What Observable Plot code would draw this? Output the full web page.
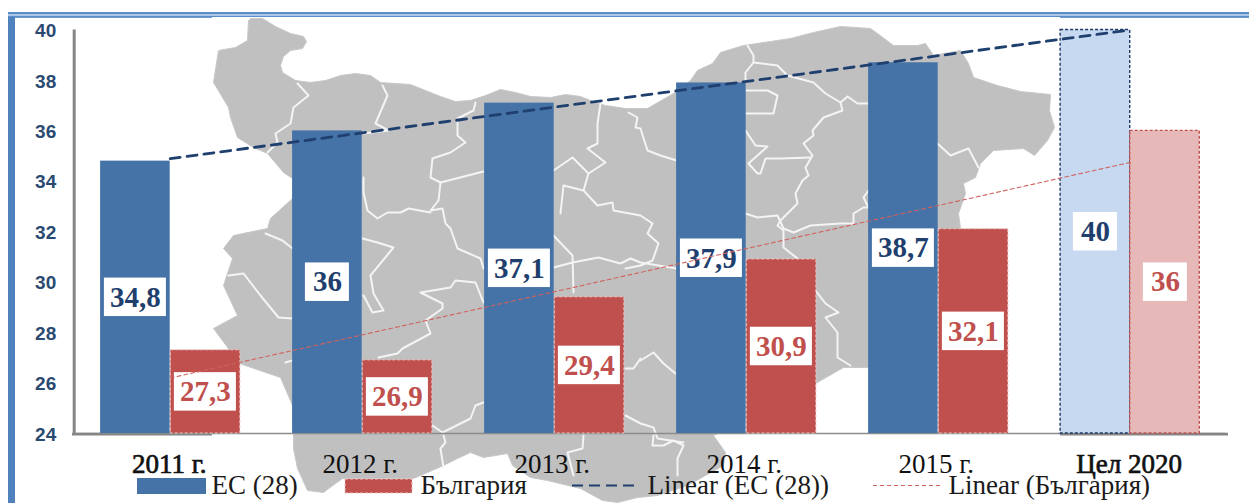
<!DOCTYPE html>
<html>
<head>
<meta charset="utf-8">
<script src="https://cdn.jsdelivr.net/npm/d3@7"></script>
<script src="https://cdn.jsdelivr.net/npm/@observablehq/plot@0.6"></script>
<style>
html,body{margin:0;padding:0;background:#fff;overflow:hidden}
#wrap{position:relative;width:1249px;height:503px}
#wrap svg{display:block;position:absolute;left:0;top:0;overflow:visible}
.f{position:absolute}
</style>
</head>
<body>
<div id="wrap">
</div>
<script>
const categories = ["2011 г.","2012 г.","2013 г.","2014 г.","2015 г.","Цел 2020"];
const euValues = [34.8,36,37.1,37.9,38.7,40];
const bgValues = [27.3,26.9,29.4,30.9,32.1,36];
const yTicks = [24,26,28,30,32,34,36,38,40];
const euTrend = [34.9,40];
const bgTrend = [26.2,34.75];
const labels = ["34,8","36","37,1","37,9","38,7","40"];
const bgLabels = ["27,3","26,9","29,4","30,9","32,1","36"];
const legendNames = ["ЕС (28)","България","Linear (ЕС (28))","Linear (България)"];

// Background map (picture px), converted to chart units below
const mapOutline = [[250,18],[262,18],[275,26],[290,33],[303,36],[306,41],[302,48],[290,50],[283,56],[280,65],[282,72],[295,80],[310,82],[325,80],[340,75],[355,73],[370,75],[380,82],[395,83],[410,84],[425,90],[440,96],[455,101],[470,100],[485,95],[500,89],[515,92],[530,96],[550,97],[565,94],[580,96],[595,102],[605,105],[625,108],[647,108],[673,93],[690,80],[697,70],[712,63],[720,52],[743,45],[770,41],[790,38],[813,32],[840,26],[870,28],[877,33],[893,45],[917,45],[925,43],[933,55],[960,50],[968,63],[973,77],[997,85],[1020,91],[1050,94],[1049,110],[1054,127],[1047,140],[1034,155],[1023,148],[993,150],[980,163],[975,177],[963,183],[965,193],[958,213],[960,228],[940,290],[900,340],[867,367],[843,367],[815,383],[745,420],[713,435],[725,452],[723,465],[687,485],[657,495],[637,497],[617,502],[602,500],[580,488],[547,480],[530,477],[512,465],[507,453],[483,457],[470,452],[457,458],[443,465],[427,472],[413,478],[342,478],[335,483],[323,492],[307,490],[297,468],[293,448],[293,433],[292,405],[280,377],[239,363],[213,328],[237,315],[223,285],[232,258],[223,248],[233,235],[267,228],[270,218],[292,198],[292,178],[283,172],[267,153],[253,147],[237,137],[230,117],[228,107],[213,82],[218,50],[235,47],[247,40],[248,20]];
const mapBorders = [
 [[297,83],[308,95],[293,107],[290,123],[275,133],[277,142],[267,152]],
 [[382,85],[387,95],[375,123],[388,130],[363,133]],
 [[475,102],[473,110],[457,118],[457,135],[465,142],[450,152],[432,158],[430,177],[440,182],[483,171]],
 [[440,182],[438,200],[430,210],[442,208],[445,223],[450,228],[457,248],[480,258],[483,268]],
 [[363,177],[363,192],[367,210],[377,218],[387,212],[400,212],[408,208],[430,212]],
 [[553,170],[572,157],[588,173],[583,190],[563,185],[560,213]],
 [[600,103],[597,123],[597,143],[587,148],[605,162],[588,173]],
 [[583,190],[597,205],[612,202],[613,210],[640,215],[652,223],[647,233],[658,243],[652,260],[640,265],[625,268]],
 [[628,112],[637,117],[635,127],[640,128],[647,150],[660,155],[676,160]],
 [[228,275],[243,273],[260,295],[278,317],[292,318]],
 [[265,233],[282,240],[292,248]],
 [[362,238],[377,242],[393,247],[370,275],[373,293],[383,310],[372,312],[363,295]],
 [[378,357],[397,353],[402,348],[430,333],[425,320],[442,308],[442,303],[420,292],[450,287],[455,280],[475,282],[483,302]],
 [[432,425],[442,432],[470,418],[475,405],[483,402]],
 [[285,362],[292,360]],
 [[553,235],[572,255],[573,292]],
 [[553,267],[572,262],[598,257],[620,263],[630,258],[640,262],[676,268]],
 [[625,415],[640,423],[653,427],[657,438],[683,442]],
 [[640,358],[633,368],[625,368]],
 [[640,360],[653,352],[663,363],[675,373]],
 [[747,45],[753,55],[753,62],[777,65],[787,75],[813,82],[825,93],[840,102],[842,110],[823,117],[812,130],[813,135],[803,143],[812,155],[805,167],[808,175],[802,180],[795,193],[797,203],[780,220],[777,225],[783,230],[783,247],[797,258]],
 [[753,62],[745,72],[745,82]],
 [[840,102],[847,96],[857,103],[868,103]],
 [[745,90],[767,90],[777,95],[773,113],[745,113]],
 [[745,130],[755,145],[767,146],[748,163],[757,173],[760,173],[765,158],[780,158],[810,157]],
 [[745,213],[757,217],[777,215],[783,228],[793,232],[810,225],[840,223],[853,223],[853,213],[863,207],[868,207]],
 [[868,190],[863,197],[868,207]],
 [[937,143],[950,155],[968,148],[978,167]],
 [[815,290],[825,303],[838,312],[825,317],[837,332],[837,357],[850,365]],
 [[443,435],[445,442],[440,448],[443,467]],
 [[583,435],[582,448],[567,452],[573,475]],
 [[653,435],[652,445],[663,445],[673,440],[683,445],[677,458],[677,475]]
];

const W = 1249, H = 503, left = 73.7, step = 192, top0 = 29.5, base = 433;
const barW = 69.6 / step;
const ux = p => (p - left) / step - 0.5;
const vy = p => 24 + (base - p) * 16 / (base - top0);

const rows = categories.map((c, i) => ({i, c, eu: euValues[i], bg: bgValues[i], el: labels[i], bl: bgLabels[i]}));
const hist = rows.filter(d => d.i < 5), goal = rows.filter(d => d.i === 5);
const outline = mapOutline.map(([x, y]) => ({x: ux(x), y: vy(y)}));
const borders = mapBorders.flatMap((l, k) => l.map(([x, y]) => ({x: ux(x), y: vy(y), k})));

const boxH = 38.5 * 16 / (base - top0);
const boxW = s => (s.length > 2 ? 62 : 44) / step;
const euBox = d => d.i - barW / 2;
const bgBox = d => d.i + barW / 2 + 0.002;

const eb = "#4572A7", rb = "#C0504D", dk = "#1F3F6E", serif = "'Liberation Serif'";
const labelOpts = {fontFamily: serif, fontWeight: "bold", fontSize: 29};
const tickOpts = {fontFamily: serif, fontSize: 27, fill: "#111"};
const legOpts = {fontFamily: serif, fontSize: 27, fill: "#1a1a1a", textAnchor: "start"};
const legendX = [211, 420, 647, 948];

const chart = Plot.plot({
  width: W, height: H,
  marginLeft: left, marginRight: W - (left + 6 * step), marginTop: top0, marginBottom: H - base,
  style: {background: "transparent", overflow: "visible"},
  x: {domain: [-0.5, 5.5], axis: null},
  y: {domain: [24, 40], axis: null},
  marks: [
    Plot.line(outline, {x: "x", y: "y", fill: "#c0c0c0", stroke: "#c8c8c8", strokeWidth: 1}),
    Plot.line(borders, {x: "x", y: "y", z: "k", stroke: "#f4f4f4", strokeWidth: 2}),

    Plot.ruleX([-0.5], {y1: 24, y2: 40, stroke: "#868686", strokeWidth: 3}),
    Plot.ruleY([24], {stroke: "#8c8c8c", strokeWidth: 1.5}),
    Plot.ruleY([24], {x1: ux(72), x2: ux(212), dy: 0.6, stroke: "#868686", strokeWidth: 2.6}),
    Plot.ruleY([24], {x1: ux(1060), x2: ux(1228), dy: 0.6, stroke: "#868686", strokeWidth: 2.6}),

    Plot.rect(hist, {x1: d => d.i - barW, x2: d => d.i, y1: 24, y2: "eu", fill: eb}),
    Plot.rect(hist, {x1: d => d.i + 0.003, x2: d => d.i + barW + 0.003, y1: 24, y2: "bg", fill: rb, stroke: "#eec4c2", strokeWidth: 1, strokeDasharray: "3 2"}),
    Plot.rect(goal, {x1: d => d.i - barW, x2: d => d.i, y1: 24, y2: "eu", fill: "#C6D9F1", stroke: "#1F3864", strokeWidth: 1.4, strokeDasharray: "3 2"}),
    Plot.rect(goal, {x1: d => d.i, x2: d => d.i + barW, y1: 24, y2: "bg", fill: "#E6B9B8", stroke: "#C0504D", strokeWidth: 1.4, strokeDasharray: "3 2"}),

    Plot.rect(rows, {x1: d => euBox(d) - boxW(d.el) / 2, x2: d => euBox(d) + boxW(d.el) / 2, y1: d => (24 + d.eu) / 2 - boxH / 2, y2: d => (24 + d.eu) / 2 + boxH / 2, fill: "white"}),
    Plot.rect(rows, {x1: d => bgBox(d) - boxW(d.bl) / 2, x2: d => bgBox(d) + boxW(d.bl) / 2, y1: d => (24 + d.bg) / 2 - boxH / 2, y2: d => (24 + d.bg) / 2 + boxH / 2, fill: "white"}),
    Plot.text(rows, {x: euBox, y: d => (24 + d.eu) / 2, text: "el", fill: dk, ...labelOpts}),
    Plot.text(rows, {x: bgBox, y: d => (24 + d.bg) / 2, text: "bl", fill: rb, ...labelOpts}),

    Plot.line(euTrend.map((v, i) => ({i: i * 5, v})), {x: "i", y: "v", stroke: dk, strokeWidth: 2.8, strokeDasharray: "10 7"}),
    Plot.line(bgTrend.map((v, i) => ({i: i * 5, v})), {x: "i", y: "v", stroke: "#D0625F", strokeWidth: 1.1, strokeDasharray: "4 3"}),

    Plot.axisY({ticks: yTicks, tickSize: 0, tickPadding: 18, fontFamily: "'Liberation Sans'", fontSize: 19, fontWeight: "bold", fill: "#2b4a72", label: null, dy: 1}),

    Plot.text(rows.filter(d => d.i % 5 !== 0), {x: "i", y: vy(464), dx: -2, text: "c", ...tickOpts}),
    Plot.text(rows.filter(d => d.i % 5 === 0), {x: "i", y: vy(464), dx: -1, text: "c", ...tickOpts, stroke: "#111", strokeWidth: 0.7}),

    Plot.rect([legendNames[0]], {x1: ux(137), x2: ux(206), y1: vy(494), y2: vy(478), fill: eb}),
    Plot.rect([legendNames[1]], {x1: ux(345), x2: ux(412), y1: vy(493), y2: vy(479), fill: rb, stroke: "#eec4c2", strokeWidth: 1, strokeDasharray: "3 2"}),
    Plot.ruleY([vy(485)], {x1: ux(572), x2: ux(635), stroke: dk, strokeWidth: 2, strokeDasharray: "11 6"}),
    Plot.ruleY([vy(485)], {x1: ux(873), x2: ux(941), stroke: "#D0625F", strokeWidth: 1.1, strokeDasharray: "4 3"}),
    Plot.text(legendNames, {x: (d, i) => ux(legendX[i]), y: vy(485), text: d => d, ...legOpts})
  ]
});
const wrap = document.getElementById("wrap");
wrap.appendChild(chart);
// Slide frame around the chart
[
 [8,12,7,491,"#4f81bd"],[8,12,1241,2,"#5b8ec9"],[8,14,1241,2,"#aac6e6"],[8,16,1241,1,"#5b8ec9"],
 [15,17,197,1,"#6f9bd1"],[1060,17,189,1,"#6f9bd1"]
].forEach(([l,t,w,h,c]) => {
  const e = document.createElement("div");
  e.className = "f";
  e.style.cssText = `left:${l}px;top:${t}px;width:${w}px;height:${h}px;background:${c}`;
  wrap.appendChild(e);
});
</script>
</body>
</html>
